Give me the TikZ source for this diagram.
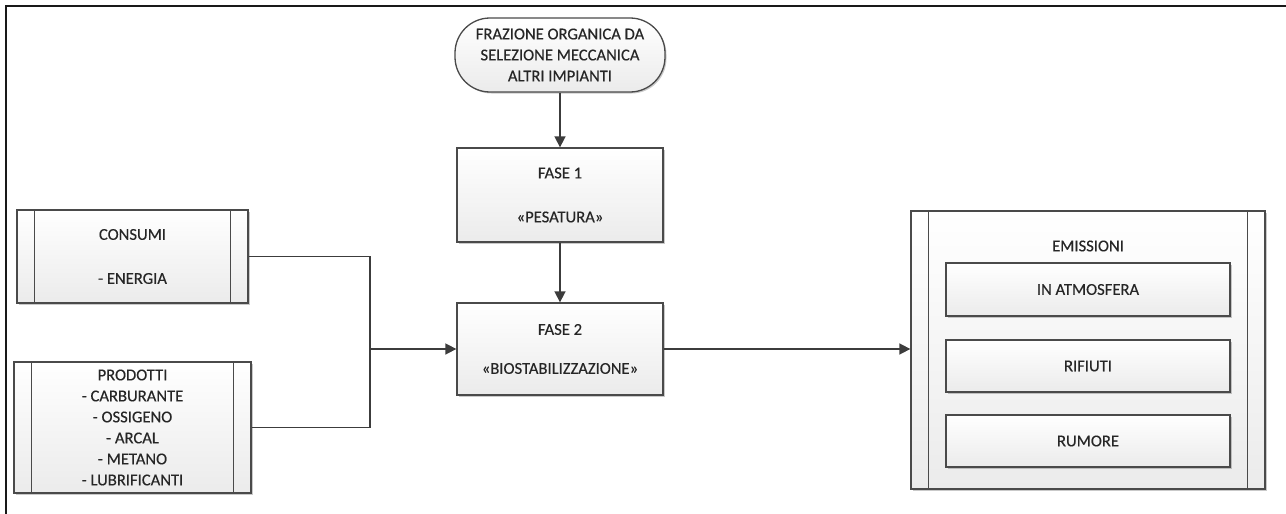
\documentclass[tikz,border=0pt]{standalone}
\usepackage{fontspec}
\setmainfont{Carlito}
\newfontfamily\diagfont{Carlito}[FakeBold=0.35]
\usetikzlibrary{arrows.meta,shadows}
\definecolor{edge}{HTML}{4A4A4A}
\definecolor{wirec}{HTML}{3C3C3C}
\definecolor{ink}{HTML}{262626}
\definecolor{boxbot}{HTML}{EBEBEB}

\tikzset{
  label font/.style={font=\diagfont\fontsize{16.6}{21}\selectfont},
  box/.style={draw=edge, line width=1.3pt, top color=white, bottom color=boxbot,
    drop shadow={shadow xshift=1.5pt, shadow yshift=-1.5pt, opacity=0.3, fill=black!70},
    text=ink, align=center, inner sep=0pt, label font},
  terminal/.style={box, rounded corners=35pt},
  sidebar/.style={draw=edge, line width=1.3pt},
  wire/.style={draw=wirec, line width=1.6pt},
  arr/.style={wire, -{Triangle[length=11pt,width=11pt]}},
  frame/.style={draw=black!90, line width=2.2pt},
  caption/.style={text=ink, inner sep=0pt, label font}
}

\begin{document}
\begin{tikzpicture}[x=1pt, y=-1pt]
\useasboundingbox (0,0) rectangle (1286,514);

% outer frame (top and left edges)
\coordinate (fr) at (1286,6);
\coordinate (tl) at (6,6);
\coordinate (bl) at (6,514);
\draw[frame] (fr) -- (tl) -- (bl);

% source
\node[terminal, minimum width=210pt, minimum height=74pt] (src) at (560,55)
  {FRAZIONE ORGANICA DA\\SELEZIONE MECCANICA\\ALTRI IMPIANTI};

% process steps
\node[box, minimum width=206pt, minimum height=94pt] (f1) at (560,195)
  {FASE 1\\[23pt]«PESATURA»};
\node[box, minimum width=206pt, minimum height=92pt] (f2) at (560,349)
  {FASE 2\\[18pt]«BIOSTABILIZZAZIONE»};

% inputs
\node[box, minimum width=231pt, minimum height=93pt] (cons) at (132.5,256.5)
  {CONSUMI\\[23pt]- ENERGIA};
\node[box, minimum width=237pt, minimum height=131pt] (prod) at (132.5,427.5)
  {PRODOTTI\\- CARBURANTE\\- OSSIGENO\\- ARCAL\\- METANO\\- LUBRIFICANTI};

% outputs
\node[box, minimum width=354pt, minimum height=278pt] (em) at (1088,350) {};
\node[caption] (emt) at (1088,246) {EMISSIONI};
\node[box, minimum width=284pt, minimum height=53pt] (atm) at (1088,289.5) {IN ATMOSFERA};
\node[box, minimum width=284pt, minimum height=52pt] (rif) at (1088,366) {RIFIUTI};
\node[box, minimum width=284pt, minimum height=52pt] (rum) at (1088,441) {RUMORE};

% side bars of the predefined-process boxes
\foreach \n in {cons,prod,em}{
  \draw[sidebar] ([xshift=18pt]\n.north west) -- ([xshift=18pt]\n.south west);
  \draw[sidebar] ([xshift=-18pt]\n.north east) -- ([xshift=-18pt]\n.south east);
}

% connectors
\coordinate (j) at (370,349);
\draw[wire] (cons.east) -| (j);
\draw[wire] (prod.east) -| (j);
\draw[arr] (j) -- (f2.west);
\draw[arr] (src) -- (f1);
\draw[arr] (f1) -- (f2);
\draw[arr] (f2.east) -- (f2.east -| em.west);
\end{tikzpicture}
\end{document}
